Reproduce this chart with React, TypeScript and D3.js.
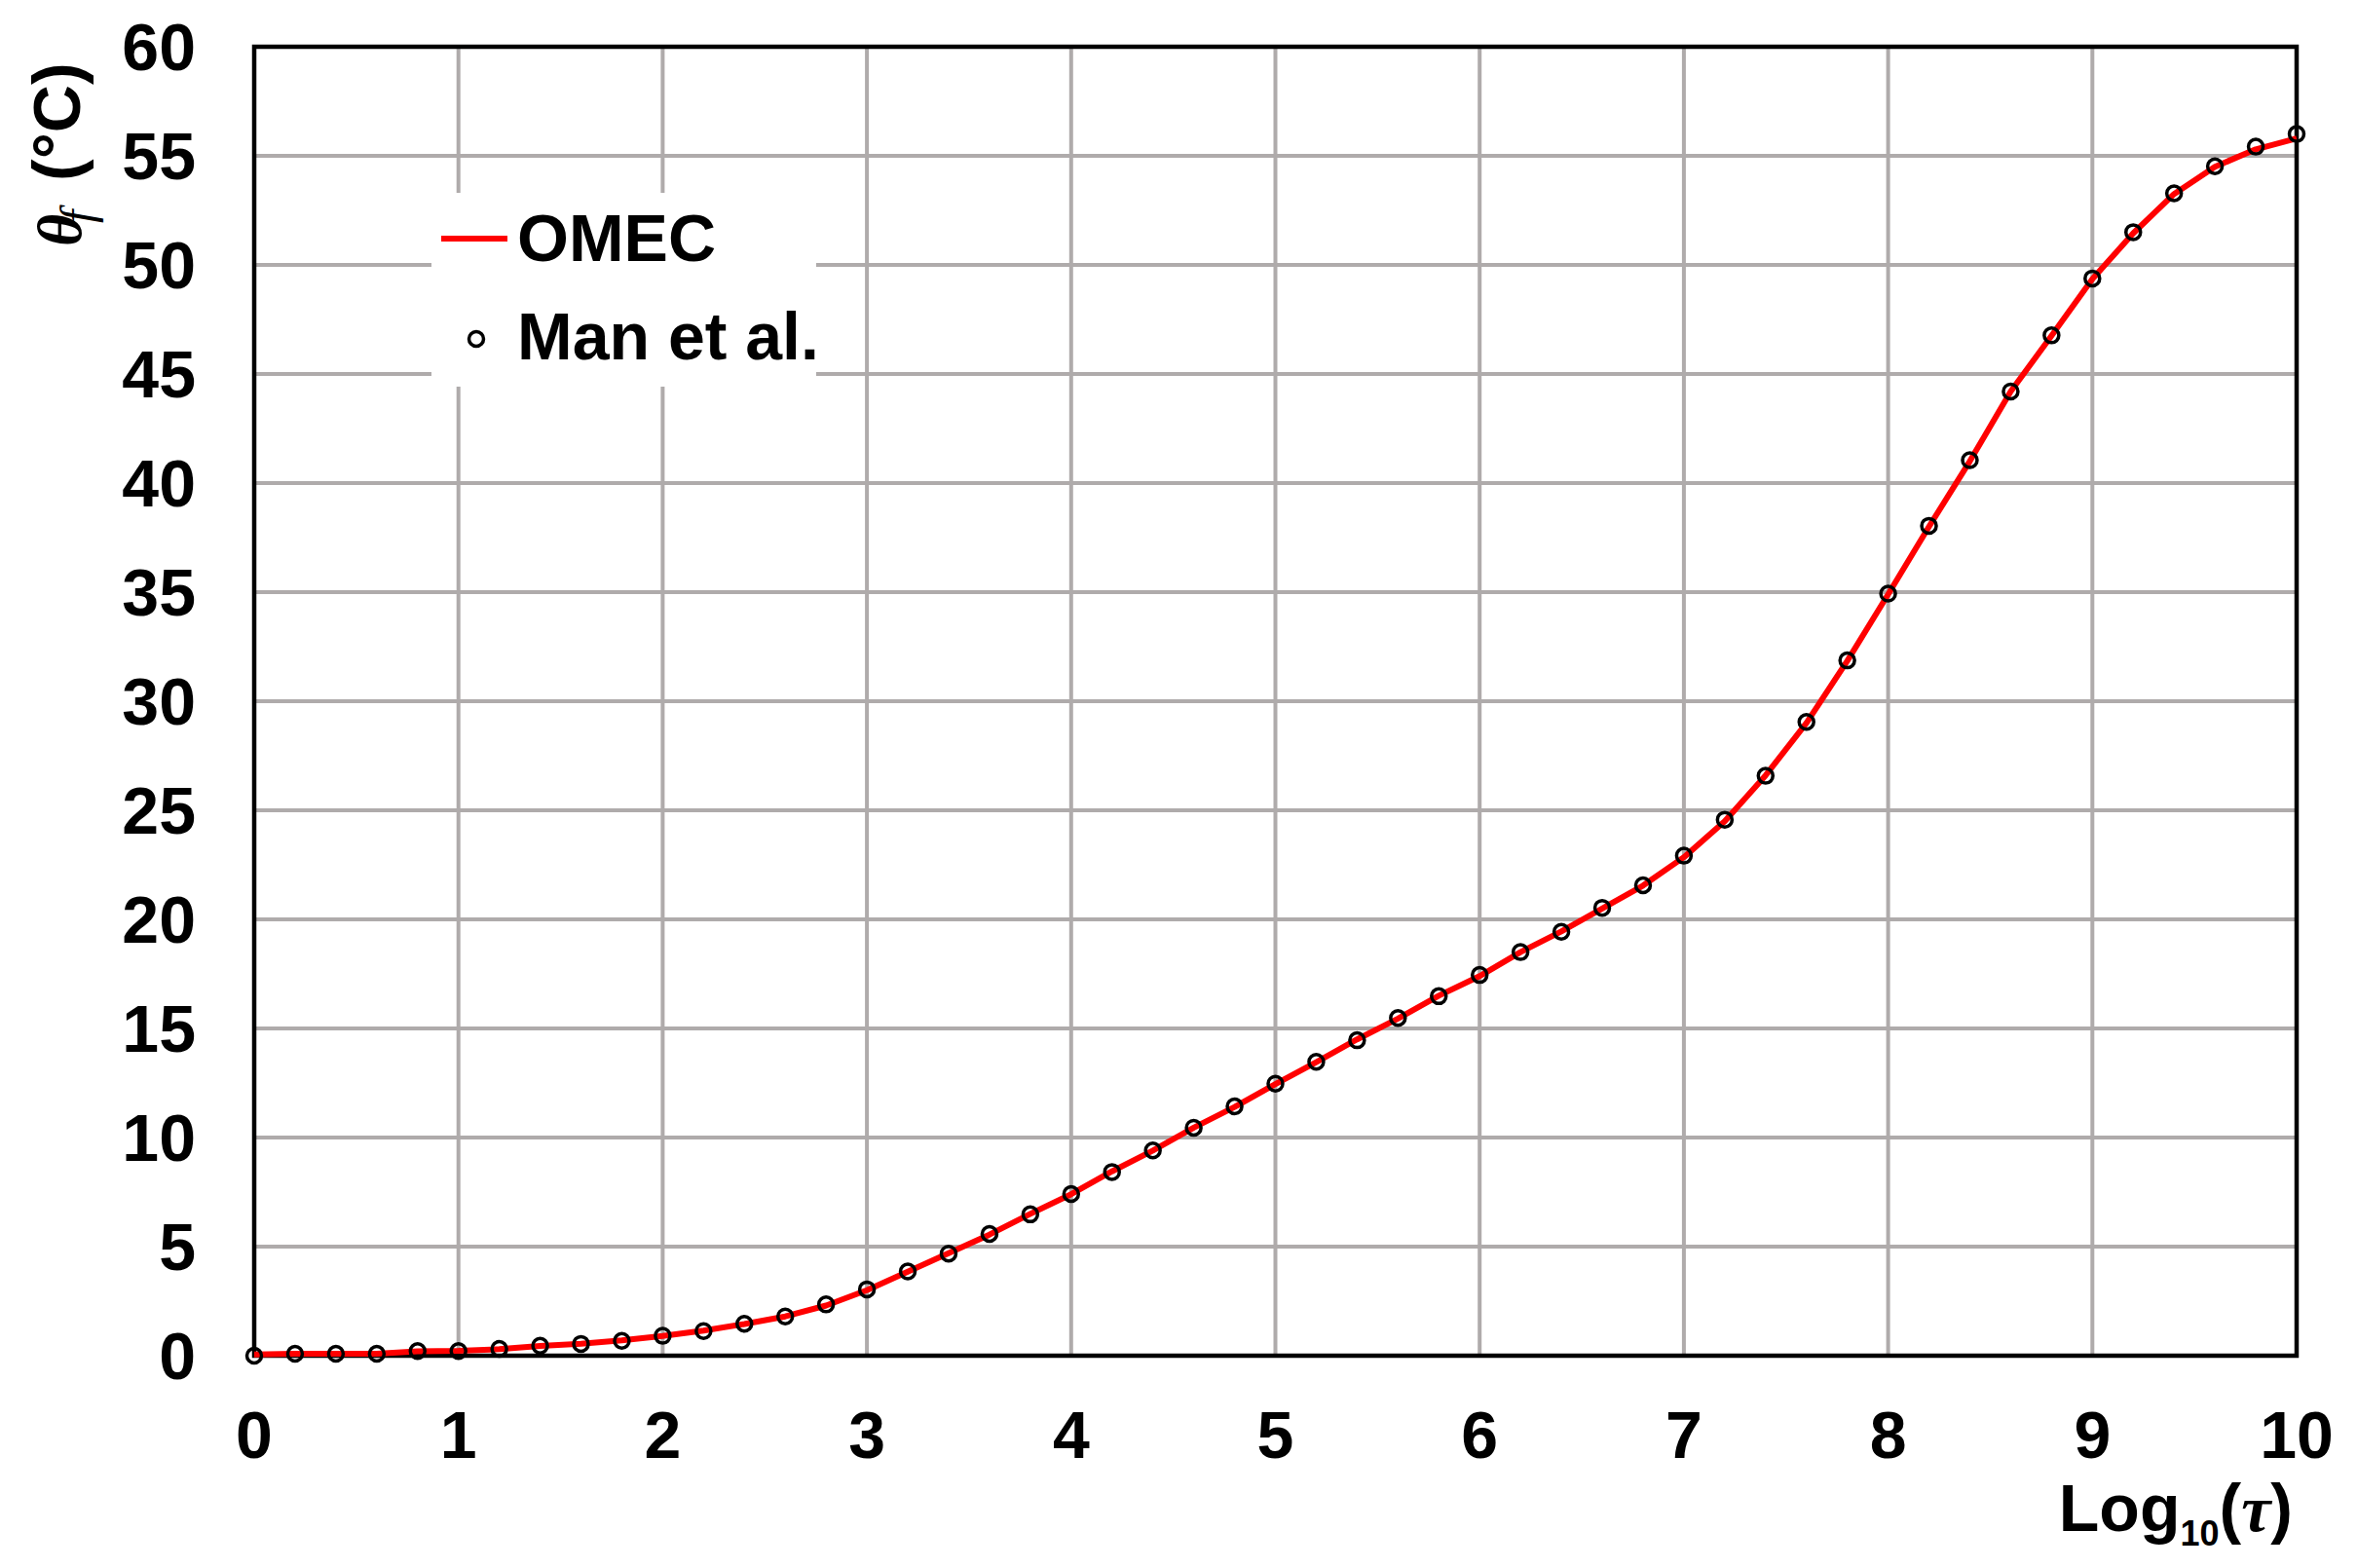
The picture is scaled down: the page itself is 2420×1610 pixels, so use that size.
import React from "react";
import * as d3 from "d3";

// x positions of the points (Log10 tau)
const xVals = [
  0, 0.2, 0.4, 0.6, 0.8, 1, 1.2, 1.4, 1.6, 1.8, 2, 2.2, 2.4, 2.6, 2.8, 3, 3.2, 3.4, 3.6, 3.8, 4,
  4.2, 4.4, 4.6, 4.8, 5, 5.2, 5.4, 5.6, 5.8, 6, 6.2, 6.4, 6.6, 6.8, 7, 7.2, 7.4, 7.6, 7.8, 8,
  8.2, 8.4, 8.6, 8.8, 9, 9.2, 9.4, 9.6, 9.8, 10,
];

// Man et al. (markers)
const manValues = [
  0.0, 0.09, 0.09, 0.09, 0.21, 0.21, 0.31, 0.46, 0.54, 0.68, 0.91, 1.13, 1.46, 1.8, 2.35, 3.04,
  3.86, 4.68, 5.58, 6.48, 7.41, 8.42, 9.41, 10.45, 11.43, 12.47, 13.47, 14.46, 15.48, 16.48,
  17.45, 18.5, 19.43, 20.53, 21.56, 22.92, 24.57, 26.58, 29.05, 31.87, 34.93, 38.04, 41.05,
  44.2, 46.77, 49.38, 51.5, 53.28, 54.52, 55.42, 56.0,
];

// OMEC (red line)
const omecValues = [
  0.06, 0.09, 0.09, 0.09, 0.2, 0.22, 0.3, 0.45, 0.55, 0.7, 0.9, 1.15, 1.45, 1.8, 2.3, 3.0,
  3.85, 4.7, 5.55, 6.5, 7.4, 8.45, 9.4, 10.45, 11.4, 12.45, 13.45, 14.5, 15.45, 16.5, 17.4,
  18.5, 19.45, 20.5, 21.55, 22.85, 24.5, 26.6, 29.0, 31.85, 34.9, 38.0, 41.0, 44.2, 46.75,
  49.35, 51.45, 53.25, 54.5, 55.3, 55.8,
];

const xTicks = [0, 1, 2, 3, 4, 5, 6, 7, 8, 9, 10];
const yTicks = [0, 5, 10, 15, 20, 25, 30, 35, 40, 45, 50, 55, 60];

const W = 2420;
const H = 1610;
const left = 261;
const right = 2358;
const top = 48;
const bottom = 1392;

const FONT = "'Liberation Sans', Arial, sans-serif";
const SERIF = "'Liberation Serif', 'DejaVu Serif', serif";
const GRID = "#AFABAB";

export default function App() {
  const x = d3.scaleLinear().domain([0, 10]).range([left, right]);
  const y = d3.scaleLinear().domain([0, 60]).range([bottom, top]);

  const omecLine = d3
    .line<number>()
    .x((d, i) => x(xVals[i]))
    .y((d) => y(d))
    .curve(d3.curveLinear);

  return (
    <svg
      width={W}
      height={H}
      style={{ position: "absolute", left: 0, top: 0, background: "#fff" }}
    >
      <rect x={0} y={0} width={W} height={H} fill="#fff" />

      {/* gridlines */}
      {xTicks.slice(1, -1).map((t) => (
        <line key={"gx" + t} x1={x(t)} x2={x(t)} y1={top} y2={bottom} stroke={GRID} strokeWidth={4} />
      ))}
      {yTicks.slice(1, -1).map((t) => (
        <line key={"gy" + t} x1={left} x2={right} y1={y(t)} y2={y(t)} stroke={GRID} strokeWidth={4} />
      ))}

      {/* legend background */}
      <rect x={443} y={198} width={395} height={199} fill="#fff" />

      {/* frame */}
      <rect x={left} y={top} width={right - left} height={bottom - top} fill="none" stroke="#000" strokeWidth={4.5} />

      {/* OMEC line */}
      <path d={omecLine(omecValues) || ""} fill="none" stroke="#FF0000" strokeWidth={6} strokeLinejoin="round" />

      {/* Man et al. markers */}
      {manValues.map((v, i) => (
        <circle key={"m" + i} cx={x(xVals[i])} cy={y(v)} r={7.5} fill="none" stroke="#000" strokeWidth={3.5} />
      ))}

      {/* y tick labels */}
      {yTicks.map((t) => (
        <text
          key={"yl" + t}
          x={201}
          y={y(t)}
          dy="0.36em"
          textAnchor="end"
          fontFamily={FONT}
          fontWeight="bold"
          fontSize={68}
        >
          {t}
        </text>
      ))}

      {/* x tick labels */}
      {xTicks.map((t) => (
        <text
          key={"xl" + t}
          x={x(t)}
          y={1497}
          textAnchor="middle"
          fontFamily={FONT}
          fontWeight="bold"
          fontSize={68}
        >
          {t}
        </text>
      ))}

      {/* x axis title */}
      <text x={2354} y={1572} textAnchor="end" fontFamily={FONT} fontWeight="bold" fontSize={68}>
        Log
        <tspan fontSize={36} dy={15}>10</tspan>
        <tspan dy={-15}>(</tspan>
        <tspan fontFamily={SERIF} fontStyle="italic">τ</tspan>
        <tspan>)</tspan>
      </text>

      {/* y axis title */}
      <text
        transform="translate(83,253) rotate(-90)"
        fontFamily={SERIF}
        fontStyle="italic"
        fontWeight="bold"
        fontSize={64}
      >
        θ
      </text>
      <text
        transform="translate(96,229) rotate(-90)"
        fontFamily={SERIF}
        fontStyle="italic"
        fontSize={48}
      >
        f
      </text>
      <text
        transform="translate(82,186) rotate(-90)"
        fontFamily={FONT}
        fontWeight="bold"
        fontSize={68}
      >
        (°C)
      </text>

      {/* legend */}
      <line x1={453} x2={521} y1={245} y2={245} stroke="#FF0000" strokeWidth={6} />
      <text x={531} y={268} fontFamily={FONT} fontWeight="bold" fontSize={68}>OMEC</text>
      <circle cx={489} cy={348} r={7.5} fill="none" stroke="#000" strokeWidth={3.5} />
      <text x={531} y={369} fontFamily={FONT} fontWeight="bold" fontSize={68}>Man et al.</text>
    </svg>
  );
}
